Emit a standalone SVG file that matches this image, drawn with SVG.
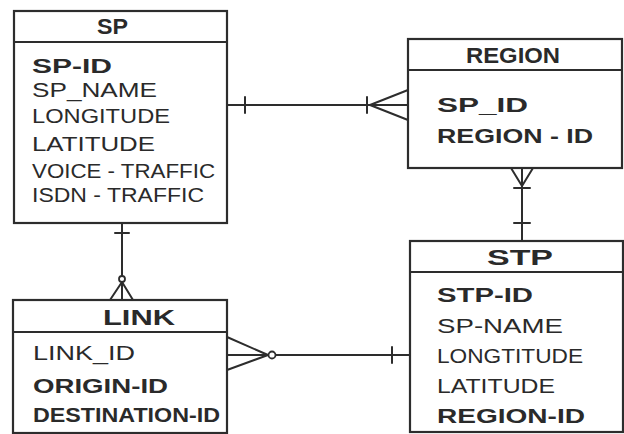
<svg xmlns="http://www.w3.org/2000/svg" width="624" height="434" viewBox="0 0 624 434">
  <style>
    .box { fill: #ffffff; stroke: #2d2d2d; stroke-width: 2.2; }
    .div { stroke: #2d2d2d; stroke-width: 2; }
    .ln { fill: none; stroke: #2d2d2d; stroke-width: 2; stroke-linecap: round; }
    .ring { fill: #ffffff; stroke: #2d2d2d; stroke-width: 1.8; }
    text { font-family: "Liberation Sans", Arial, sans-serif; fill: #2a2a2a; font-size: 20px; }
    .hd { font-weight: bold; font-size: 22px; }
    .b { font-weight: bold; }
  </style>
  <rect width="624" height="434" fill="#ffffff"/>

  <!-- connectors -->
  <g id="connectors">
    <!-- SP to REGION: one to many -->
    <line class="ln" x1="227" y1="105" x2="408" y2="105"/>
    <line class="ln" x1="245" y1="97" x2="245" y2="113"/>
    <line class="ln" x1="367" y1="97" x2="367" y2="113"/>
    <line class="ln" x1="370" y1="105" x2="408" y2="90"/>
    <line class="ln" x1="370" y1="105" x2="408" y2="120"/>

    <!-- REGION to STP: many to one -->
    <line class="ln" x1="522" y1="168" x2="522" y2="241"/>
    <line class="ln" x1="511" y1="168" x2="522" y2="186"/>
    <line class="ln" x1="533" y1="168" x2="522" y2="186"/>
    <line class="ln" x1="514" y1="188" x2="530" y2="188"/>
    <line class="ln" x1="514" y1="223" x2="530" y2="223"/>

    <!-- SP to LINK: one to zero-or-many -->
    <line class="ln" x1="122" y1="223" x2="122" y2="300"/>
    <line class="ln" x1="115" y1="233" x2="129" y2="233"/>
    <line class="ln" x1="122" y1="282" x2="110" y2="300"/>
    <line class="ln" x1="122" y1="282" x2="133" y2="300"/>
    <circle class="ring" cx="122" cy="279" r="3"/>

    <!-- LINK to STP: zero-or-many to one -->
    <line class="ln" x1="227" y1="355" x2="410" y2="355"/>
    <line class="ln" x1="392" y1="347" x2="392" y2="363"/>
    <line class="ln" x1="268" y1="355" x2="227" y2="337"/>
    <line class="ln" x1="268" y1="355" x2="227" y2="370"/>
    <circle class="ring" cx="272" cy="355" r="3.5"/>
  </g>

  <!-- SP entity -->
  <g id="sp">
    <rect class="box" x="14" y="11" width="213" height="212"/>
    <line class="div" x1="14" y1="42" x2="227" y2="42"/>
    <text class="hd" x="97" y="34" textLength="31" lengthAdjust="spacingAndGlyphs">SP</text>
    <text class="b" x="32" y="73" font-size="23" textLength="80" lengthAdjust="spacingAndGlyphs">SP-ID</text>
    <text x="32" y="97" textLength="125" lengthAdjust="spacingAndGlyphs">SP_NAME</text>
    <text x="32" y="123" textLength="138" lengthAdjust="spacingAndGlyphs">LONGITUDE</text>
    <text x="32" y="151" textLength="123" lengthAdjust="spacingAndGlyphs">LATITUDE</text>
    <text x="32" y="178" textLength="183" lengthAdjust="spacingAndGlyphs">VOICE - TRAFFIC</text>
    <text x="32" y="202" textLength="172" lengthAdjust="spacingAndGlyphs">ISDN - TRAFFIC</text>
  </g>

  <!-- REGION entity -->
  <g id="region">
    <rect class="box" x="408" y="39" width="214" height="129"/>
    <line class="div" x1="408" y1="70" x2="622" y2="70"/>
    <text class="hd" x="466" y="63" font-size="21" textLength="94" lengthAdjust="spacingAndGlyphs">REGION</text>
    <text class="b" x="437" y="112" font-size="21" textLength="91" lengthAdjust="spacingAndGlyphs">SP_ID</text>
    <text class="b" x="437" y="143" font-size="21" textLength="156" lengthAdjust="spacingAndGlyphs">REGION - ID</text>
  </g>

  <!-- STP entity -->
  <g id="stp">
    <rect class="box" x="410" y="241" width="213" height="191"/>
    <line class="div" x1="410" y1="272" x2="623" y2="272"/>
    <text class="hd" x="487" y="265" font-size="26" textLength="66" lengthAdjust="spacingAndGlyphs">STP</text>
    <text class="b" x="437" y="302" textLength="96" lengthAdjust="spacingAndGlyphs">STP-ID</text>
    <text x="437" y="333" textLength="126" lengthAdjust="spacingAndGlyphs">SP-NAME</text>
    <text x="437" y="363" textLength="146" lengthAdjust="spacingAndGlyphs">LONGTITUDE</text>
    <text x="437" y="393" textLength="118" lengthAdjust="spacingAndGlyphs">LATITUDE</text>
    <text class="b" x="437" y="423" font-size="21" textLength="148" lengthAdjust="spacingAndGlyphs">REGION-ID</text>
  </g>

  <!-- LINK entity -->
  <g id="link">
    <rect class="box" x="13" y="300" width="214" height="133"/>
    <line class="div" x1="13" y1="332" x2="227" y2="332"/>
    <text class="hd" x="103" y="325" font-size="25" textLength="72" lengthAdjust="spacingAndGlyphs">LINK</text>
    <text x="33" y="360" font-size="22" textLength="102" lengthAdjust="spacingAndGlyphs">LINK_ID</text>
    <text class="b" x="33" y="393" textLength="135" lengthAdjust="spacingAndGlyphs">ORIGIN-ID</text>
    <text class="b" x="33" y="422" textLength="187" lengthAdjust="spacingAndGlyphs">DESTINATION-ID</text>
  </g>
</svg>
